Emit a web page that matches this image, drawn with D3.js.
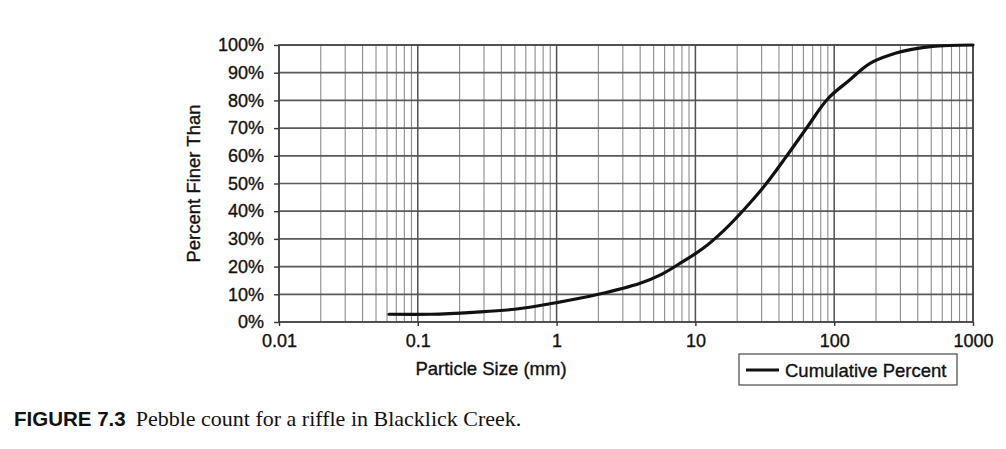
<!DOCTYPE html>
<html>
<head>
<meta charset="utf-8">
<script src="https://cdn.jsdelivr.net/npm/d3@7"></script>
<style>
  body { margin: 0; background: #fff; }
  text { font-family: "Liberation Sans", Arial, sans-serif; fill: #111; }
  .heavy { stroke: #111; stroke-width: 0.35px; }
</style>
</head>
<body>
<div id="chart-area"></div>
<script>
// particle sizes (mm) and cumulative percent finer
const sizes = [0.062, 0.125, 0.25, 0.5, 1, 2, 4, 5.7, 8, 11.3, 16, 22.6, 32, 45, 64, 90, 128, 180, 256, 362, 512, 1000];
const percentFiner = [2.8, 2.8, 3.5, 4.6, 7, 10, 14, 17.2, 21.6, 26.5, 33, 40.8, 49.6, 59.6, 70.4, 80.6, 87.2, 93.3, 96.5, 98.4, 99.5, 100];
const xTicks = [0.01, 0.1, 1, 10, 100, 1000];
const yTicks = [0, 10, 20, 30, 40, 50, 60, 70, 80, 90, 100];

const width = 1006;
const height = 449;
const plotLeft = 279, plotRight = 973, plotTop = 45, plotBottom = 322;

const canvas = d3.select("#chart-area")
  .append("svg")
  .attr("width", width)
  .attr("height", height);

const xScale = d3.scaleLog().domain([0.01, 1000]).range([plotLeft, plotRight]);
const yScale = d3.scaleLinear().domain([0, 100]).range([plotBottom, plotTop]);

// minor vertical grid (2..9 in each decade)
const minor = [];
for (let e = -2; e < 3; e++) {
  for (let k = 2; k <= 9; k++) minor.push(k * Math.pow(10, e));
}
canvas.append("g")
  .selectAll("line")
  .data(minor)
  .enter()
  .append("line")
  .attr("x1", d => xScale(d)).attr("x2", d => xScale(d))
  .attr("y1", plotTop).attr("y2", plotBottom)
  .attr("stroke", "#8c8c8c")
  .attr("stroke-width", 1.1);

// horizontal grid
canvas.append("g")
  .selectAll("line")
  .data(yTicks)
  .enter()
  .append("line")
  .attr("x1", plotLeft).attr("x2", plotRight)
  .attr("y1", d => yScale(d)).attr("y2", d => yScale(d))
  .attr("stroke", "#5a5a5a")
  .attr("stroke-width", 1.7);

// decade lines
canvas.append("g")
  .selectAll("line")
  .data(xTicks)
  .enter()
  .append("line")
  .attr("x1", d => xScale(d)).attr("x2", d => xScale(d))
  .attr("y1", plotTop).attr("y2", plotBottom)
  .attr("stroke", "#505050")
  .attr("stroke-width", 1.5);

// plot frame
canvas.append("rect")
  .attr("x", plotLeft).attr("y", plotTop)
  .attr("width", plotRight - plotLeft).attr("height", plotBottom - plotTop)
  .attr("fill", "none")
  .attr("stroke", "#444")
  .attr("stroke-width", 1.6);

// axes
const yAxis = canvas.append("g")
  .attr("transform", `translate(${plotLeft},0)`)
  .call(d3.axisLeft(yScale).tickValues(yTicks).tickFormat(d => d + "%").tickSize(5).tickPadding(10));
yAxis.select(".domain").remove();
yAxis.selectAll("line").attr("stroke", "#333").attr("stroke-width", 1.4);
yAxis.selectAll("text").attr("class", "heavy").style("font-size", "18px").attr("fill", "#111");

const xAxis = canvas.append("g")
  .attr("transform", `translate(0,${plotBottom})`)
  .call(d3.axisBottom(xScale).tickValues(xTicks).tickFormat(d => String(d)).tickSize(4).tickPadding(8));
xAxis.select(".domain").remove();
xAxis.selectAll("line").attr("stroke", "#333").attr("stroke-width", 1.4);
xAxis.selectAll("text").attr("class", "heavy").style("font-size", "18px").attr("fill", "#111");

// curve
const line = d3.line()
  .x((d, i) => xScale(sizes[i]))
  .y(d => yScale(d))
  .curve(d3.curveCatmullRom.alpha(0.5));

canvas.append("path")
  .datum(percentFiner)
  .attr("d", line)
  .attr("fill", "none")
  .attr("stroke", "#111")
  .attr("stroke-width", 3.2)
  .attr("stroke-linecap", "round");

// axis titles
canvas.append("text")
  .attr("class", "heavy")
  .attr("x", 491)
  .attr("y", 375)
  .attr("text-anchor", "middle")
  .style("font-size", "18.5px")
  .text("Particle Size (mm)");

canvas.append("text")
  .attr("class", "heavy")
  .attr("transform", `translate(200,${(plotTop + plotBottom) / 2}) rotate(-90)`)
  .attr("text-anchor", "middle")
  .style("font-size", "18.5px")
  .text("Percent Finer Than");

// legend
const legend = canvas.append("g").attr("transform", "translate(739,354)");
legend.append("rect")
  .attr("width", 218).attr("height", 31)
  .attr("fill", "#fff")
  .attr("stroke", "#555")
  .attr("stroke-width", 1.3);
legend.append("line")
  .attr("x1", 7).attr("x2", 40)
  .attr("y1", 16).attr("y2", 16)
  .attr("stroke", "#111")
  .attr("stroke-width", 3.2);
legend.append("text")
  .attr("class", "heavy")
  .attr("x", 46).attr("y", 22.5)
  .style("font-size", "18.5px")
  .text("Cumulative Percent");

// caption
const caption = canvas.append("text")
  .attr("x", 14)
  .attr("y", 426);
caption.append("tspan")
  .style("font-family", "'Liberation Sans', Arial, sans-serif")
  .style("font-weight", "bold")
  .style("font-size", "20.5px")
  .text("FIGURE 7.3");
caption.append("tspan")
  .attr("dx", 10)
  .style("font-family", "'Liberation Serif', 'Times New Roman', serif")
  .style("font-size", "22px")
  .text("Pebble count for a riffle in Blacklick Creek.");
</script>
</body>
</html>
